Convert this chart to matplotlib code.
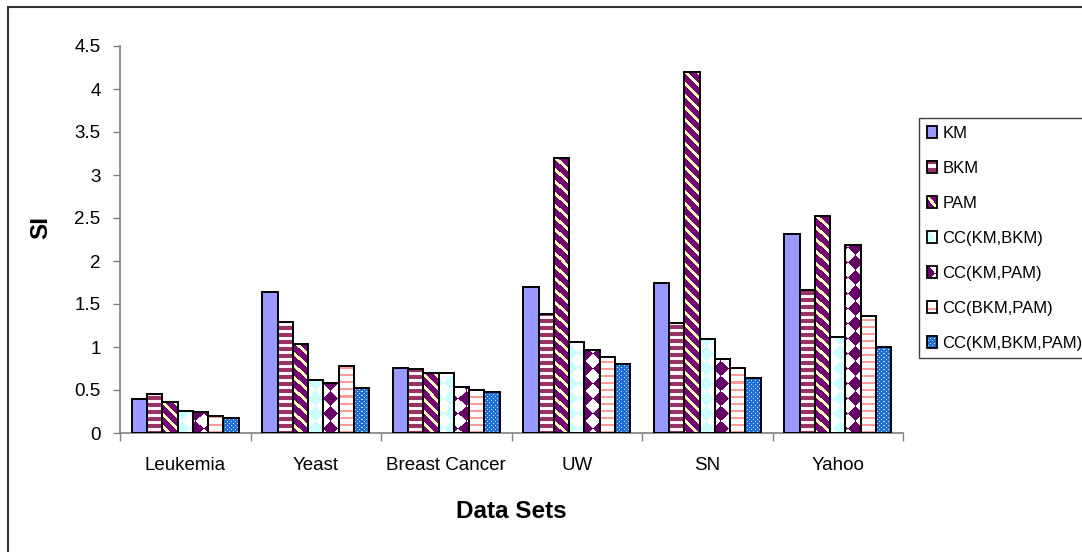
import numpy as np
import matplotlib
matplotlib.use('Agg')
import matplotlib.pyplot as plt
from matplotlib.colors import to_rgb
from matplotlib.patches import Rectangle
from matplotlib.legend_handler import HandlerBase
from matplotlib.image import BboxImage
from matplotlib.transforms import Bbox, TransformedBbox

plt.rcParams['font.family'] = ['Liberation Sans', 'DejaVu Sans']

datasets = ['Leukemia', 'Yeast', 'Breast Cancer', 'UW', 'SN', 'Yahoo']
methods = ['KM', 'BKM', 'PAM', 'CC(KM,BKM)', 'CC(KM,PAM)', 'CC(BKM,PAM)',
           'CC(KM,BKM,PAM)']

si_km = [0.40, 1.64, 0.76, 1.70, 1.74, 2.31]
si_bkm = [0.45, 1.29, 0.74, 1.38, 1.28, 1.66]
si_pam = [0.36, 1.03, 0.70, 3.20, 4.20, 2.52]
si_cc_km_bkm = [0.26, 0.62, 0.70, 1.06, 1.09, 1.12]
si_cc_km_pam = [0.24, 0.58, 0.54, 0.96, 0.86, 2.19]
si_cc_bkm_pam = [0.20, 0.78, 0.50, 0.88, 0.76, 1.36]
si_cc_all = [0.18, 0.52, 0.48, 0.80, 0.64, 1.00]

series = [si_km, si_bkm, si_pam, si_cc_km_bkm, si_cc_km_pam, si_cc_bkm_pam,
          si_cc_all]
styles = ['solid', 'hstripe', 'diag', 'diamond_cyan', 'diamond_purple',
          'thin_lines', 'speckle']


def texture(style, h, w):
    # pixel-level fill patterns, row 0 is the top of the image
    i, j = np.mgrid[0:h, 0:w]
    img = np.ones((h, w, 3))
    if style == 'solid':
        img[:] = to_rgb('#9999FF')
    elif style == 'hstripe':
        img[:] = to_rgb('#FFF4F8')
        img[(i % 7) < 4] = to_rgb('#993366')
    elif style == 'diag':
        img[:] = to_rgb('#750575')
        img[((i - j) % 12) < 4] = to_rgb('#FFFFBB')
    elif style in ('diamond_cyan', 'diamond_purple'):
        cell = 15
        mask = ((i + j) // cell + (i - j) // cell) % 2 == 0
        img[mask] = to_rgb('#CCFFFF' if style == 'diamond_cyan' else '#660066')
    elif style == 'thin_lines':
        img[(i % 7) < 2] = to_rgb('#FF9A9A')
    elif style == 'speckle':
        img[:] = to_rgb('#1F6ED4')
        dots = ((i % 4 == 1) & (j % 4 == 1)) | ((i % 4 == 3) & (j % 4 == 3))
        img[dots] = to_rgb('#CFE3FA')
    return img


class TextureHandler(HandlerBase):
    def __init__(self, tex):
        super().__init__()
        self.tex = tex

    def create_artists(self, legend, orig_handle, xdescent, ydescent,
                       width, height, fontsize, trans):
        box = TransformedBbox(Bbox.from_bounds(-xdescent, -ydescent,
                                               width, height), trans)
        img = BboxImage(box, interpolation='nearest')
        img.set_data(self.tex)
        rect = Rectangle((-xdescent, -ydescent), width, height,
                         facecolor='none', edgecolor='black', lw=1.3,
                         transform=trans)
        return [img, rect]


W, H = 1082, 552
fig = plt.figure(figsize=(W / 100, H / 100), dpi=100)
ax_left, ax_right, ax_top, ax_bottom = 120, 903, 46, 433
ax = fig.add_axes([ax_left / W, 1 - ax_bottom / H,
                   (ax_right - ax_left) / W, (ax_bottom - ax_top) / H])

x = np.arange(len(datasets))
bw = 0.117
extent = (-0.5, len(datasets) - 0.5, 0, 4.5)
tex_h, tex_w = ax_bottom - ax_top, ax_right - ax_left

handles = []
handler_map = {}
for k, (vals, style) in enumerate(zip(series, styles)):
    tex = texture(style, tex_h, tex_w)
    offs = x - 0.41 + bw * (k + 0.5)
    bars = ax.bar(offs, vals, width=bw, facecolor='none', edgecolor='black',
                  linewidth=1.4, zorder=3)
    for b in bars:
        im = ax.imshow(tex, extent=extent, aspect='auto',
                       interpolation='nearest', zorder=2)
        im.set_clip_path(b)
    h = Rectangle((0, 0), 1, 1)
    handles.append(h)
    handler_map[h] = TextureHandler(texture(style, 12, 10))

ax.set_xlim(-0.5, len(datasets) - 0.5)
ax.set_ylim(0, 4.5)

grey = '#808080'
for s in ('top', 'right'):
    ax.spines[s].set_visible(False)
for s in ('left', 'bottom'):
    ax.spines[s].set_color(grey)
    ax.spines[s].set_linewidth(1.2)

ax.set_yticks(np.arange(0, 4.51, 0.5))
ax.set_yticklabels(['0', '0.5', '1', '1.5', '2', '2.5', '3', '3.5', '4',
                    '4.5'])
ax.tick_params(axis='y', direction='out', length=5, width=1, color=grey,
               pad=9, labelsize=13.5)
ax.set_xticks(x)
ax.set_xticklabels(datasets)
ax.tick_params(axis='x', which='major', length=0, pad=17, labelsize=13.5)
ax.set_xticks(np.arange(-0.5, len(datasets)), minor=True)
ax.tick_params(axis='x', which='minor', direction='out', length=6, width=1,
               color=grey)

ax.text(-0.101, 0.53, 'SI', transform=ax.transAxes, rotation=90,
        ha='center', va='center', fontsize=17.5, fontweight='bold')
ax.text(0.5, -0.203, 'Data Sets', transform=ax.transAxes, ha='center',
        va='center', fontsize=17.5, fontweight='bold')

leg = ax.legend(handles, methods, handler_map=handler_map,
                loc='upper left', bbox_to_anchor=(919 / W, 1 - 118 / H),
                bbox_transform=fig.transFigure, borderaxespad=0,
                fancybox=False, edgecolor='#404040', framealpha=1,
                fontsize=12, handlelength=0.6, handleheight=0.75,
                handletextpad=0.35, labelspacing=1.2, borderpad=0.45)
leg.get_frame().set_linewidth(1.0)

# outer chart-area frame
fig.patches.append(Rectangle((8 / W, -0.1), 1.2, 1.1 - 6.5 / H,
                             transform=fig.transFigure, fill=False,
                             edgecolor='#333333', linewidth=1.5))

fig.savefig('out.png', dpi=100)
